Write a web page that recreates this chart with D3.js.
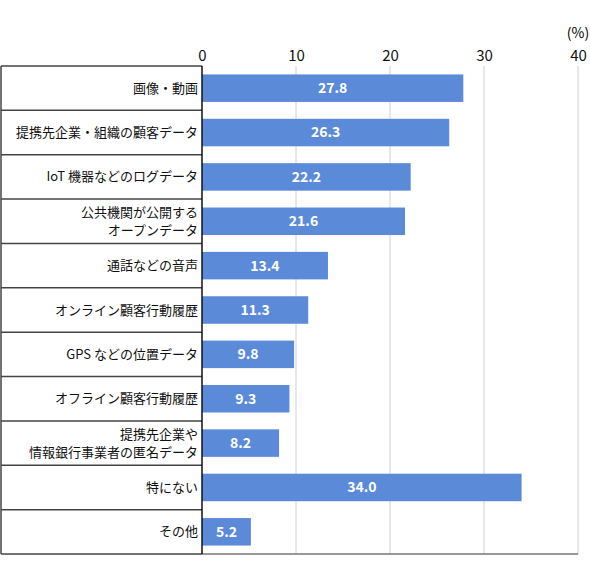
<!DOCTYPE html>
<html><head><meta charset="utf-8">
<script src="https://cdn.jsdelivr.net/npm/d3@7"></script>
<style>body{margin:0;background:#fff}</style></head>
<body><svg id="c" width="590" height="576"></svg>
<script>
const categories = [["画像・動画"],["提携先企業・組織の顧客データ"],["IoT 機器などのログデータ"],["公共機関が公開する","オープンデータ"],["通話などの音声"],["オンライン顧客行動履歴"],["GPS などの位置データ"],["オフライン顧客行動履歴"],["提携先企業や","情報銀行事業者の匿名データ"],["特にない"],["その他"]];
const values = [27.8,26.3,22.2,21.6,13.4,11.3,9.8,9.3,8.2,34.0,5.2];
const ticks = [0,10,20,30,40];
const svg = d3.select("#c");
const font = "'Noto Sans CJK JP', 'Noto Sans', sans-serif";
const x = d3.scaleLinear().domain([0,40]).range([202,578]);
const y = d3.scaleBand().domain(d3.range(values.length)).range([66,554]).paddingInner(0.38).paddingOuter(0.19);
const rows = d3.scaleBand().domain(d3.range(values.length)).range([66,554]);
svg.selectAll(".g").data(ticks.slice(1)).join("line").attr("x1",d=>x(d)).attr("x2",d=>x(d)).attr("y1",66).attr("y2",554).attr("stroke","#d0d0d0").attr("stroke-width",1);
svg.selectAll(".r").data(d3.range(values.length+1)).join("line")
 .attr("x1",1).attr("x2",202).attr("y1",d=>d<values.length?rows(d):554).attr("y2",d=>d<values.length?rows(d):554)
 .attr("stroke","#444").attr("stroke-width",1.5);
svg.append("line").attr("x1",202).attr("x2",578).attr("y1",554).attr("y2",554).attr("stroke","#777").attr("stroke-width",1.5);
svg.append("line").attr("x1",1).attr("x2",1).attr("y1",66).attr("y2",554).attr("stroke","#444").attr("stroke-width",1.5);
svg.selectAll(".b").data(values).join("rect").attr("x",x(0)).attr("y",(d,i)=>y(i)).attr("width",d=>x(d)-x(0)).attr("height",y.bandwidth()).attr("fill","#5b8bd8");
svg.append("line").attr("x1",202).attr("x2",202).attr("y1",66).attr("y2",554).attr("stroke","#111").attr("stroke-width",1.5);
svg.selectAll(".v").data(values).join("text").attr("x",d=>x(0)+(x(d)-x(0))/2).attr("y",(d,i)=>y(i)+y.bandwidth()/2).attr("dy","0.35em")
 .attr("text-anchor","middle").attr("fill","#fff").attr("font-weight","bold").attr("font-size",14).attr("font-family",font).text(d=>d.toFixed(1));
const lab = svg.selectAll(".l").data(categories).join("text").attr("text-anchor","end").attr("font-size",13).attr("font-family",font).attr("fill","#111");
lab.each(function(d,i){
  const t=d3.select(this), cy=rows(i)+rows.bandwidth()/2;
  d.forEach((s,k)=>t.append("tspan").attr("x",198).attr("y",cy+(k-(d.length-1)/2)*18).attr("dy","0.35em").text(s));
});
const ax = svg.append("g").attr("transform","translate(0,62)").call(d3.axisTop(x).tickValues(ticks).tickSize(0).tickPadding(0));
ax.select(".domain").remove();
ax.selectAll("text").attr("font-size",15).attr("font-family",font).attr("fill","#111").attr("dy","-0.1em");
svg.append("text").attr("x",578).attr("y",38).attr("text-anchor","middle").attr("font-size",14).attr("font-family",font).text("(%)");
</script></body></html>
